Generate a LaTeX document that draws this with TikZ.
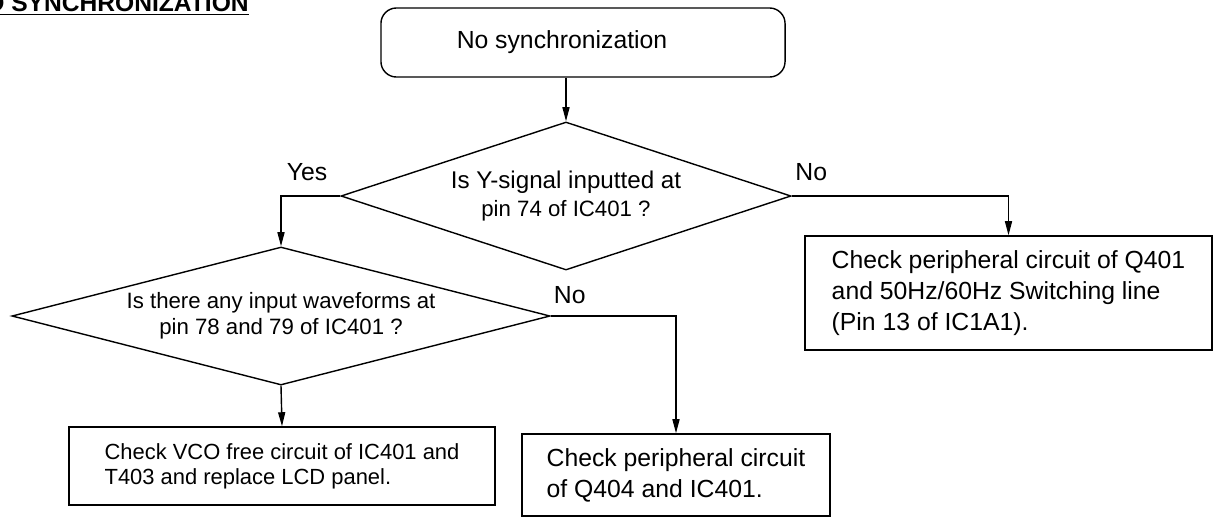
\documentclass[tikz,border=0pt]{standalone}
\usepackage{fontspec}
\setmainfont{Liberation Sans}
\usetikzlibrary{shapes.geometric, arrows.meta, positioning, calc}
\tikzset{
  startbox/.style={
    rectangle, rounded corners=11pt, draw, line width=1pt,
    minimum width=10.1cm, minimum height=1.725cm,
    font=\fontsize{17.6}{22}\selectfont
  },
  decision/.style={
    diamond, draw, line width=1pt, inner sep=0pt, aspect=3,
    align=center, font=\fontsize{15.8}{18.5}\selectfont
  },
  checkbox/.style={
    rectangle, draw, line width=1pt, inner sep=0pt,
    align=left, font=\fontsize{17.6}{22}\selectfont
  },
  arrow/.style={line width=1pt, -{Triangle[length=10pt, width=5pt]}},
  tag/.style={inner sep=0pt, font=\fontsize{17.6}{22}\selectfont},
}

\begin{document}
\begin{tikzpicture}[x=0.025cm, y=-0.025cm]
  \useasboundingbox (0,0) rectangle (1215,516);

  % --- Title (cut at the page edge) ---
  \node (title) [anchor=base east, inner sep=0pt, font=\fontsize{17.5}{20}\selectfont\bfseries]
        at (249,11) {NO SYNCHRONIZATION};
  \draw[line width=1.4pt] ($(title.base west)+(0,3.5)$) -- ($(title.base east)+(0,3.5)$);

  % --- Start ---
  \node (start) [startbox] at (583,42.5) {No synchronization\kern1.05cm};

  % --- First check: Y-signal ---
  \node (dec1) [decision, minimum width=11.25cm, minimum height=3.7cm] at (566,196)
        {{\fontsize{17.2}{20}\selectfont Is Y-signal inputted at}\\[1pt]pin 74 of IC401 ?};

  % --- Second check: waveforms ---
  \node (dec2) [decision, aspect=3.9, minimum width=13.45cm, minimum height=3.45cm] at (281,316)
        {Is there any input waveforms at\\pin 78 and 79 of IC401 ?};

  % --- Results ---
  \node (rbox) [checkbox, minimum width=10.175cm, minimum height=2.85cm] at (1008.5,293)
        {Check peripheral circuit of Q401\\and 50Hz/60Hz Switching line\\(Pin 13 of IC1A1).};
  \node (mbox) [checkbox, minimum width=7.7cm, minimum height=2.05cm] at (676,475)
        {Check peripheral circuit\\of Q404 and IC401.};
  \node (lbox) [checkbox, font=\fontsize{15.6}{18}\selectfont, minimum width=10.65cm, minimum height=1.95cm]
        at (282,466) {Check VCO free circuit of IC401 and\\T403 and replace LCD panel.};

  % --- Flow ---
  \draw[arrow] (start.south -| dec1.north) -- (dec1.north);
  \draw[arrow] (dec1.west) -| node[tag, pos=0.28, above=10.5pt] {Yes} (dec2.north);
  \draw[arrow] (dec1.east) -| node[tag, pos=0.045, above=10.5pt] {No} (rbox.north);
  \draw[arrow] (dec2.east) -| node[tag, pos=0.076, above=8pt] {No} (mbox.north);
  \draw[arrow] (dec2.south) -- (lbox.north);

\end{tikzpicture}
\end{document}
